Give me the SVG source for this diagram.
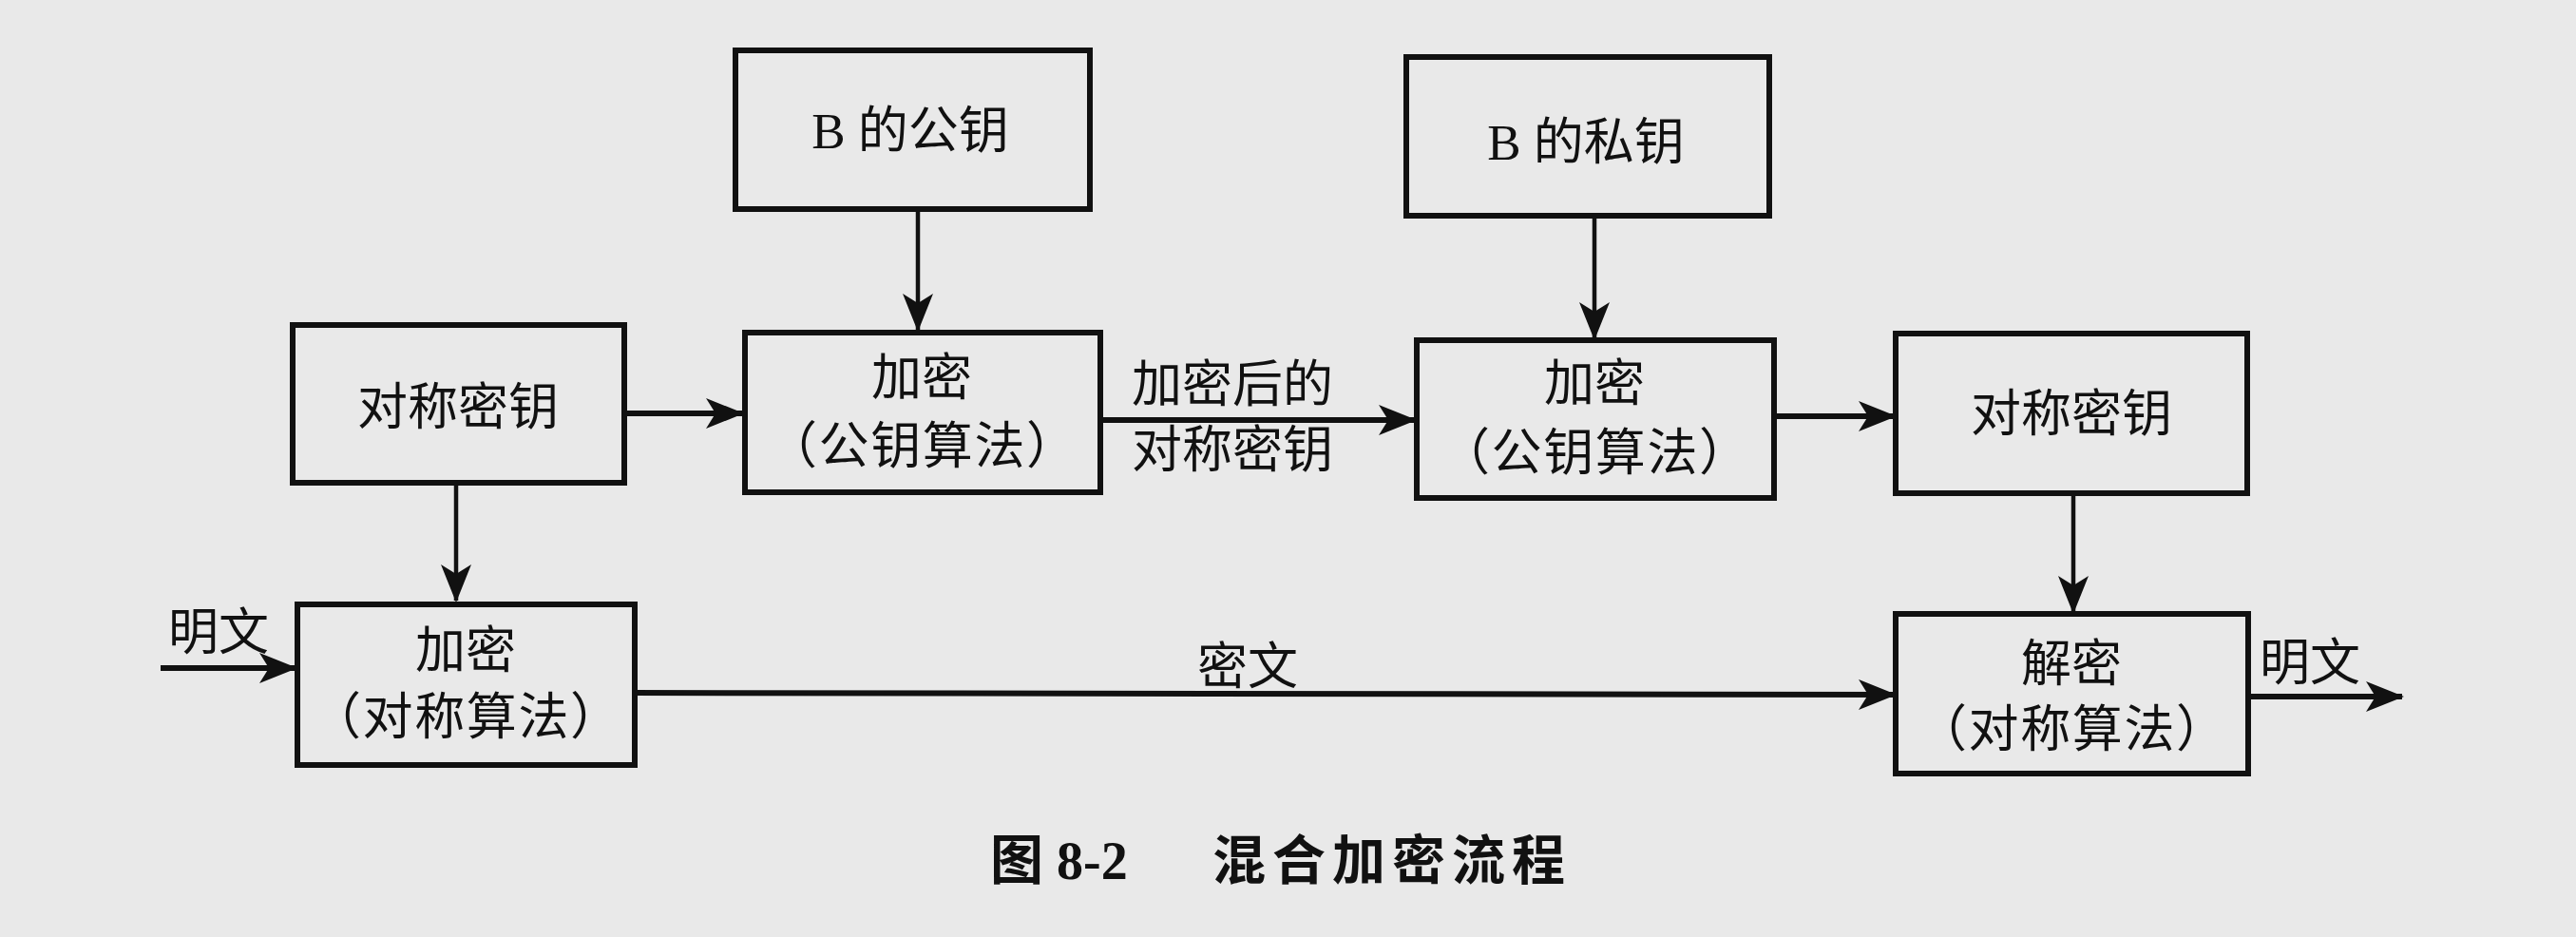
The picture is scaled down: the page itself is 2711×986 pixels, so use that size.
<svg xmlns="http://www.w3.org/2000/svg" width="2711" height="986" viewBox="0 0 2711 986">
<style>
.box{fill:none;stroke:#111;stroke-width:6}
.t{font-family:"Liberation Serif","Noto Sans CJK SC",sans-serif;font-size:53px;fill:#111;text-anchor:middle;dominant-baseline:central}
.cap{font-family:"Liberation Serif","Noto Sans CJK SC",sans-serif;font-size:56px;font-weight:bold;fill:#111;dominant-baseline:central}
.h{stroke:#111;stroke-width:6;fill:none;marker-end:url(#ah)}
.v{stroke:#111;stroke-width:4.5;fill:none;marker-end:url(#ah)}
</style>
<defs>
<marker id="ah" markerUnits="userSpaceOnUse" markerWidth="40" markerHeight="32" refX="38" refY="16" orient="auto">
<path d="M0,0 L40,16 L0,32 L10,16 Z" fill="#111"/>
</marker>
</defs>
<rect x="0" y="0" width="2711" height="986" fill="#e9e9e9"/>
<g id="connectors">
<line class="v" x1="966" y1="221" x2="966" y2="347"/>
<line class="v" x1="1678" y1="227" x2="1678" y2="356"/>
<line class="h" x1="657" y1="435" x2="781" y2="435"/>
<line class="h" x1="1158" y1="442" x2="1489" y2="442"/>
<line class="h" x1="1867" y1="438" x2="1994" y2="438"/>
<line class="v" x1="480" y1="505" x2="480" y2="632"/>
<line class="v" x1="2182" y1="519" x2="2182" y2="644"/>
<line class="h" x1="169" y1="703" x2="311" y2="703"/>
<line class="h" x1="667" y1="729" x2="1994" y2="731"/>
<line class="h" x1="2366" y1="733" x2="2528" y2="733"/>
<text class="t" x="230" y="666">明文</text>
<text class="t" x="1313" y="702">密文</text>
<text class="t" x="2431" y="698">明文</text>
<text class="t" x="1297" y="405">加密后的</text>
<text class="t" x="1297" y="474">对称密钥</text>
</g>
<g id="node-b-public">
<rect class="box" x="774" y="53" width="373" height="167"/>
<text class="t" x="958" y="138">B 的公钥</text>
</g>
<g id="node-b-private">
<rect class="box" x="1480" y="60" width="382" height="167"/>
<text class="t" x="1669" y="150">B 的私钥</text>
</g>
<g id="node-sym-key-left">
<rect class="box" x="308" y="342" width="349" height="166"/>
<text class="t" x="482" y="429">对称密钥</text>
</g>
<g id="node-encrypt-pub-left">
<rect class="box" x="784" y="350" width="374" height="168"/>
<text class="t" x="970" y="398">加密</text>
<text class="t" x="970" y="470" textLength="326" lengthAdjust="spacing">（公钥算法）</text>
</g>
<g id="node-encrypt-pub-right">
<rect class="box" x="1491" y="358" width="376" height="166"/>
<text class="t" x="1678" y="404">加密</text>
<text class="t" x="1678" y="477" textLength="326" lengthAdjust="spacing">（公钥算法）</text>
</g>
<g id="node-sym-key-right">
<rect class="box" x="1995" y="351" width="370" height="168"/>
<text class="t" x="2180" y="436">对称密钥</text>
</g>
<g id="node-encrypt-sym">
<rect class="box" x="313" y="636" width="355" height="169"/>
<text class="t" x="490" y="685">加密</text>
<text class="t" x="490" y="755" textLength="326" lengthAdjust="spacing">（对称算法）</text>
</g>
<g id="node-decrypt-sym">
<rect class="box" x="1995" y="646" width="371" height="168"/>
<text class="t" x="2180" y="699">解密</text>
<text class="t" x="2180" y="768" textLength="326" lengthAdjust="spacing">（对称算法）</text>
</g>
<g id="caption">
<text class="cap" x="1042" y="906">图 8-2</text>
<text class="cap" x="1276" y="906" letter-spacing="7">混合加密流程</text>
</g>
</svg>
